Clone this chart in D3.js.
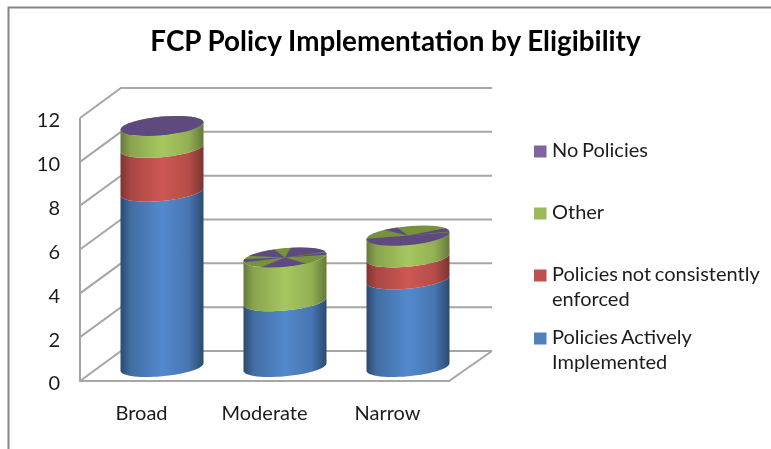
<!DOCTYPE html>
<html><head><meta charset="utf-8">
<script src="https://cdn.jsdelivr.net/npm/d3@7"></script>
<style>
html,body{margin:0;padding:0;background:#fff;overflow:hidden}
svg{display:block;filter:blur(0.35px)}
text{font-family:Lato,"Noto Sans",sans-serif;fill:#1c1c1c}
</style></head><body>
<svg id="c" width="771" height="449"></svg>
<script>
const categories = ["Broad","Moderate","Narrow"];
const seriesNames = ["Policies Actively Implemented","Policies not consistently enforced","Other","No Policies"];
const activelyImplemented = [8,3,4];
const notConsistentlyEnforced = [2,0,1];
const other = [1,2,1];
const noPolicies = [0,0,0];
const yTicks = [0,2,4,6,8,10,12];
const colors = ["#4f81bd","#c0504d","#9bbb59","#8064a2"];
const lightColors = ["#5389cd","#cd5753","#a6c75f","#5f4a80"];
const darkColors = ["#2c4a6e","#7c3432","#66793a","#5f4a80"];
// top-face overlap pattern (degrees, clockwise from 12 o'clock): purple wedges on green
const topWedges = [
  [[0,360]],
  [[8,78],[82,96],[150,215],[262,282],[300,345]],
  [[92,272],[325,345],[65,88]]
];

const svg = d3.select("#c");
const y = d3.scaleLinear().domain([0,12]).range([381,118]);
const x = d3.scaleBand().domain(categories).range([80,449]);
const depthX = 41, depthY = 30;
const rx = 41.5, ry = 9.3, skew = 3.7;
const gridColor = "#a6a6a6";

// outer frame
svg.append("path").attr("d","M8.5,449V7.5H771").attr("fill","none").attr("stroke","#868686").attr("stroke-width",2);

// title
svg.append("text").attr("x",395.5).attr("y",51).attr("text-anchor","middle")
  .attr("font-size",27.8).attr("font-weight",700).attr("style","fill:#000").text("FCP Policy Implementation by Eligibility");

// walls + gridlines
const grid = svg.append("g").attr("fill","none").attr("stroke",gridColor).attr("stroke-width",2);
yTicks.forEach(t=>{
  grid.append("path").attr("d",`M${x.range()[0]},${y(t)}l${depthX},${-depthY}H${x.range()[1]+depthX+2}`);
});
grid.append("path").attr("d",`M${x.range()[0]},${y(12)}V${y(0)}H${x.range()[1]}l${depthX+2},${-depthY}`);

// axes
const yAxis = d3.axisLeft(y).tickValues(yTicks).tickSize(0).tickPadding(20);
const ya = svg.append("g").attr("transform","translate(80,2.5)").call(yAxis);
ya.select(".domain").remove();
ya.selectAll("text").attr("font-size",20).attr("font-family",null);
const xAxis = d3.axisBottom(x).tickSize(0).tickPadding(25);
const xa = svg.append("g").attr("transform","translate(0,381)").call(xAxis);
xa.select(".domain").remove();
xa.selectAll("text").attr("font-size",20).attr("font-family",null);

// gradients
const defs = svg.append("defs");
colors.forEach((c,i)=>{
  const g = defs.append("linearGradient").attr("id","g"+i);
  g.append("stop").attr("offset","0%").attr("stop-color",darkColors[i]);
  g.append("stop").attr("offset","12%").attr("stop-color",d3.interpolateRgb(darkColors[i],lightColors[i])(.55));
  g.append("stop").attr("offset","50%").attr("stop-color",lightColors[i]);
  g.append("stop").attr("offset","82%").attr("stop-color",d3.interpolateRgb(darkColors[i],lightColors[i])(.7));
  g.append("stop").attr("offset","100%").attr("stop-color",darkColors[i]);
});

// cylinders
const base = d3.range(0,181,6).map(d=>d*Math.PI/180);
const px = (cx,cy,t)=>[cx+rx*Math.cos(t), cy+ry*Math.sin(t)-skew*Math.cos(t)];
const series = [activelyImplemented,notConsistentlyEnforced,other];
const line = d3.line();
const arcGen = d3.arc().innerRadius(0).outerRadius(1);
categories.forEach((cat,ci)=>{
  const cx = x(cat)+x.bandwidth()/2+depthX/2;
  const yb = v=>y(v)-depthY/2+1;
  let acc = 0;
  series.forEach((s,si)=>{
    const v = s[ci];
    if(!v) return;
    const y0 = yb(acc), y1 = yb(acc+v);
    const lower = base.map(t=>px(cx,y0,t));
    const upper = base.slice().reverse().map(t=>px(cx,y1,t));
    svg.append("path").attr("d",line(lower.concat(upper))+"Z").attr("fill",`url(#g${si})`);
    acc += v;
  });
  // top face
  const cy = yb(acc);
  const top = svg.append("g").attr("transform",`matrix(${rx},${-skew},0,${ry},${cx},${cy})`);
  top.append("circle").attr("r",1).attr("fill","#76923c");
  topWedges[ci].forEach(w=>{
    top.append("path").attr("fill","#5f4a80")
      .attr("d",arcGen({startAngle:w[0]*Math.PI/180,endAngle:w[1]*Math.PI/180}));
  });
});

// legend
const legendItems = [
  {c:3,y:151,lines:["No Policies"]},
  {c:2,y:213,lines:["Other"]},
  {c:1,y:275,lines:["Policies not consistently","enforced"]},
  {c:0,y:338,lines:["Policies Actively","Implemented"]}
];
const lg = svg.append("g");
legendItems.forEach(d=>{
  lg.append("rect").attr("x",534).attr("y",d.y-5.5).attr("width",12.5).attr("height",12).attr("fill",colors[d.c]);
  d.lines.forEach((l,i)=>{
    lg.append("text").attr("x",552).attr("y",d.y+6+i*25).attr("font-size",20).attr("word-spacing",-1.4).text(l);
  });
});
</script>
</body></html>
